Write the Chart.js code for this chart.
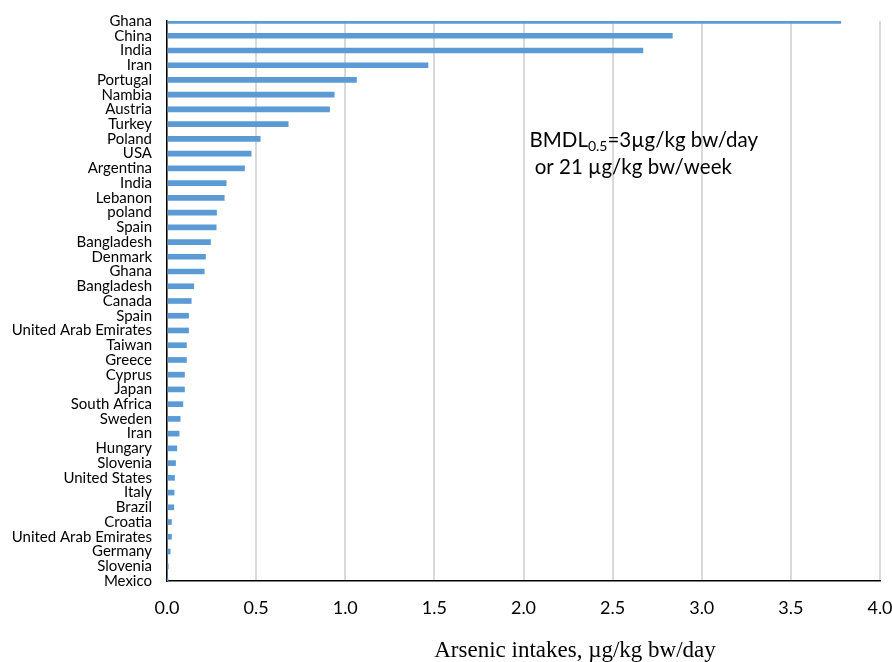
<!DOCTYPE html>
<html><head><meta charset="utf-8">
<style>html,body{margin:0;padding:0;background:#fff;overflow:hidden}</style>
<script src="https://cdn.jsdelivr.net/npm/chart.js@4/dist/chart.umd.min.js"></script>
</head><body>
<canvas id="c" width="892" height="662"></canvas>
<script>
const categories = ['Ghana','China','India','Iran','Portugal','Nambia','Austria','Turkey','Poland','USA','Argentina','India','Lebanon','poland','Spain','Bangladesh','Denmark','Ghana','Bangladesh','Canada','Spain','United Arab Emirates','Taiwan','Greece','Cyprus','Japan','South Africa','Sweden','Iran','Hungary','Slovenia','United States','Italy','Brazil','Croatia','United Arab Emirates','Germany','Slovenia','Mexico'];
const intakes = [3.78,2.835,2.67,1.464,1.063,0.938,0.912,0.680,0.523,0.472,0.435,0.332,0.321,0.278,0.276,0.244,0.216,0.209,0.150,0.136,0.121,0.121,0.109,0.109,0.098,0.098,0.089,0.074,0.068,0.055,0.048,0.042,0.040,0.038,0.025,0.025,0.018,0.007,0.002];
const xMin = 0, xMax = 4, xStep = 0.5;
const xAxisTitle = 'Arsenic intakes, \u00b5g/kg bw/day';
const noteMain = 'BMDL', noteSub = '0.5', noteRest = '=3\u00b5g/kg bw/day';
const noteLine2 = ' or 21 \u00b5g/kg bw/week';

const labelFont = 'Lato, "Open Sans", sans-serif';

const textPlugin = {
  id: 'texts',
  afterDraw(chart) {
    const ctx = chart.ctx;
    const xs = chart.scales.x;
    ctx.save();
    ctx.fillStyle = '#000';
    ctx.textBaseline = 'alphabetic';
    let x0 = xs.getPixelForValue(2.0) + 6;
    let x = x0;
    const y1 = 147;
    ctx.font = '20.5px ' + labelFont;
    ctx.textAlign = 'left';
    ctx.fillText(noteMain, x, y1);
    x += ctx.measureText(noteMain).width;
    ctx.font = '14px ' + labelFont;
    ctx.fillText(noteSub, x, y1 + 4);
    x += ctx.measureText(noteSub).width;
    ctx.font = '20.5px ' + labelFont;
    ctx.fillText(noteRest, x, y1);
    ctx.fillText(noteLine2, x0, 174);
    ctx.font = '23px "Liberation Serif", "Times New Roman", serif';
    ctx.textAlign = 'center';
    ctx.fillText(xAxisTitle, 575, 657);
    ctx.restore();
  }
};

new Chart(document.getElementById('c'), {
  type: 'bar',
  data: {
    labels: categories,
    datasets: [{
      data: intakes,
      backgroundColor: '#5b9bd5',
      borderWidth: 0,
      barThickness: 5
    }]
  },
  options: {
    indexAxis: 'y',
    responsive: false,
    devicePixelRatio: 1,
    animation: false,
    events: [],
    layout: { padding: { top: 21, left: 0, right: 0, bottom: 0 } },
    plugins: { legend: { display: false }, tooltip: { enabled: false } },
    scales: {
      x: {
        type: 'linear',
        min: xMin, max: xMax,
        ticks: {
          stepSize: xStep,
          padding: 16,
          color: '#000',
          font: { family: labelFont, size: 18 },
          maxRotation: 0,
          callback: v => Number(v).toFixed(1)
        },
        grid: { color: '#d9d9d9', lineWidth: 2, drawTicks: false },
        border: { display: true, color: '#000', width: 1.5 },
        afterFit(s) { s.height = 81; s.paddingRight = 12; s.paddingLeft = 0; }
      },
      y: {
        offset: false,
        ticks: {
          padding: 15,
          color: '#000',
          autoSkip: false,
          font: { family: labelFont, size: 15 }
        },
        grid: { display: false, drawTicks: false },
        border: { display: true, color: '#000', width: 1.5 },
        afterFit(s) { s.width = 167; s.paddingTop = 0; s.paddingBottom = 0; }
      }
    }
  },
  plugins: [textPlugin]
});
</script>
</body></html>
